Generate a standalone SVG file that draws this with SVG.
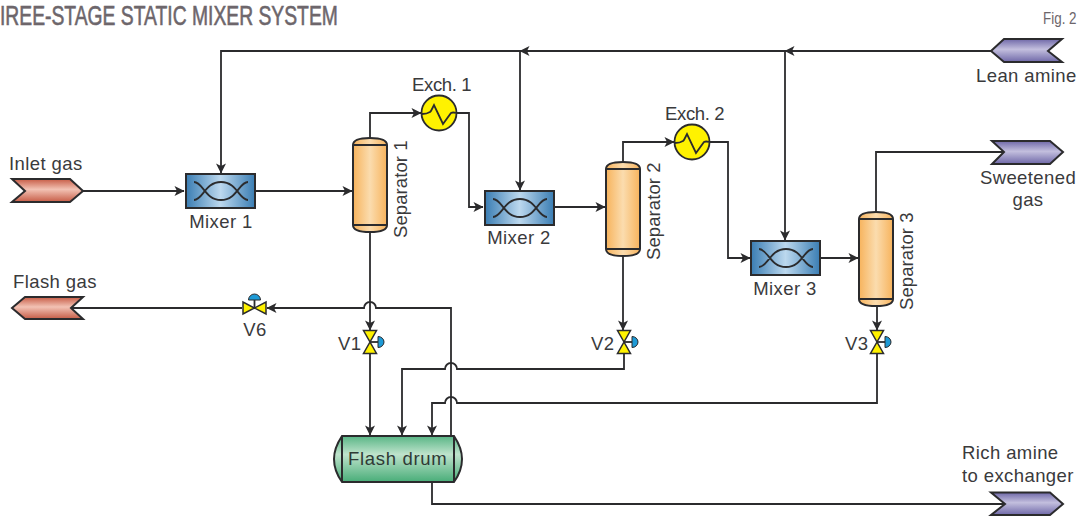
<svg xmlns="http://www.w3.org/2000/svg" width="1079" height="516" viewBox="0 0 1079 516">
<style>
text{font-family:"Liberation Sans",Arial,sans-serif;font-size:18.500px;letter-spacing:.4px;fill:#3a3a3c}
.t{fill:#6d666b;letter-spacing:0}
.c{fill:none;stroke:#2b2b2d;stroke-width:1.8}
.o{stroke:#2b2b2d;stroke-width:2;stroke-linejoin:miter}
.m{fill:url(#gm)}
.s{fill:url(#gs)}
.x{fill:none;stroke:#2b2b2d;stroke-width:1.800}
.v{fill:#fff200;stroke:#2b2b2d;stroke-width:1.500}
.a{fill:#1e9ad6;stroke:#2b2b2d;stroke-width:1}
.e{fill:#fff200;stroke:#2b2b2d;stroke-width:1.800}
</style>
<defs>
<marker id="ah" viewBox="0 0 10 10" refX="9.500" refY="5" markerWidth="11" markerHeight="10" markerUnits="userSpaceOnUse" orient="auto"><path d="M0 0L10 5L0 10L2.500 5Z" fill="#2b2b2d"/></marker>
<linearGradient id="gr" x1="0" y1="0" x2="0" y2="1"><stop offset="0" stop-color="#c75c46"/><stop offset=".45" stop-color="#f2c2b4"/><stop offset="1" stop-color="#c75c46"/></linearGradient>
<linearGradient id="gp" x1="0" y1="0" x2="0" y2="1"><stop offset="0" stop-color="#6f68a8"/><stop offset=".45" stop-color="#c3bfde"/><stop offset="1" stop-color="#6f68a8"/></linearGradient>
<linearGradient id="gm" x1="0" y1="0" x2="1" y2="0"><stop offset="0" stop-color="#3a7db3"/><stop offset=".5" stop-color="#bcd8ee"/><stop offset="1" stop-color="#3a7db3"/></linearGradient>
<linearGradient id="gs" x1="0" y1="0" x2="1" y2="0"><stop offset="0" stop-color="#f7b35c"/><stop offset=".5" stop-color="#fbdcae"/><stop offset="1" stop-color="#f7b35c"/></linearGradient>
<linearGradient id="gd" x1="0" y1="0" x2="0" y2="1"><stop offset="0" stop-color="#58b585"/><stop offset=".4" stop-color="#bfe3cc"/><stop offset="1" stop-color="#48ad78"/></linearGradient>
<g id="mix"><rect class="o m" x="0" y="0" width="69" height="34"/><path class="x" d="M8 8C17 8 19 26 35 26C51 26 53 8 62 8M8 26C17 26 19 8 35 8C51 8 53 26 62 26"/></g>
<g id="sep"><path class="o s" d="M0 7Q0 0 17 0Q34 0 34 7V87Q34 94 17 94Q0 94 0 87Z"/><path class="o" fill="none" d="M0 7H34M0 87H34"/></g>
<g id="exch"><circle class="e" r="17.500"/><path class="x" d="M-17 1Q-12 1-9 -1L-8-2L-5-8L4 11L12 0Q14-1 17 0"/></g>
<g id="vv"><path class="v" d="M-6.500-11.500H6.500L-6.500 11.500H6.500Z"/><path class="x" d="M0 0H8"/><path class="a" d="M8-5.500A6 5.500 0 0 1 8 5.500Z"/></g>
</defs>
<text class="t" transform="translate(0 25) scale(.715 1)" style="font-size:27px;stroke:#6d666b;stroke-width:.6">IREE-STAGE STATIC MIXER SYSTEM</text>
<text class="t" transform="translate(1043 24) scale(.84 1)" style="font-size:16px">Fig. 2</text>
<g id="connectors">
<path class="c" marker-end="url(#ah)" d="M83 191H184"/>
<path class="c" marker-end="url(#ah)" d="M255 191H352"/>
<path class="c" marker-end="url(#ah)" d="M370 138V113H421"/>
<path class="c" marker-end="url(#ah)" d="M457 113H469V207H483"/>
<path class="c" marker-end="url(#ah)" d="M554 207H605"/>
<path class="c" marker-end="url(#ah)" d="M623 162V142H674"/>
<path class="c" marker-end="url(#ah)" d="M710 142H728V258H750"/>
<path class="c" marker-end="url(#ah)" d="M820 258H858"/>
<path class="c" d="M876 211V152H1004"/>
<path class="c" marker-end="url(#ah)" d="M991 51H221V173"/>
<path class="c" marker-end="url(#ah)" d="M991 51H785"/>
<path class="c" marker-end="url(#ah)" d="M785 51H520"/>
<path class="c" marker-end="url(#ah)" d="M520 51V190"/>
<path class="c" marker-end="url(#ah)" d="M785 51V240"/>
<path class="c" marker-end="url(#ah)" d="M370 233V330"/>
<path class="c" marker-end="url(#ah)" d="M370 354V435"/>
<path class="c" marker-end="url(#ah)" d="M623 253V330"/>
<path class="c" marker-end="url(#ah)" d="M877 305V330"/>
<path class="c" marker-end="url(#ah)" d="M624 354V369H457A6 6 0 0 0 445 369H402V435"/>
<path class="c" marker-end="url(#ah)" d="M877 354V403H457A6 6 0 0 0 445 403H432V435"/>
<path class="c" marker-end="url(#ah)" d="M451 436V308H376A6 6 0 0 0 364 308H267"/>
<path class="c" d="M242 308H71"/>
<path class="c" d="M432 482V504H1005"/>
</g>
<g id="inlet-gas"><path class="o" fill="url(#gr)" d="M12 179H70L83 191L70 202H12L25 191Z"/><text x="9" y="170">Inlet gas</text></g>
<g id="flash-gas"><path class="o" fill="url(#gr)" d="M12 308L25 297H83L71 308L83 319H25Z"/><text x="13" y="288">Flash gas</text></g>
<g id="lean-amine"><path class="o" fill="url(#gp)" d="M991 51L1004 39H1062L1048 51L1062 62H1004Z"/><text x="976" y="82">Lean amine</text></g>
<g id="sweetened-gas"><path class="o" fill="url(#gp)" d="M992 141H1050L1063 152L1050 164H992L1004 152Z"/><text x="1028" y="184" text-anchor="middle">Sweetened</text><text x="1028" y="206" text-anchor="middle">gas</text></g>
<g id="rich-amine"><path class="o" fill="url(#gp)" d="M991 492.500H1050L1063 504L1050 515H991L1005 504Z"/><text x="962" y="459">Rich amine</text><text x="962" y="482">to exchanger</text></g>
<g id="mixer-1"><use href="#mix" x="186" y="174"/><text x="221" y="228" text-anchor="middle">Mixer 1</text></g>
<g id="mixer-2"><use href="#mix" x="485" y="191"/><text x="519" y="244" text-anchor="middle">Mixer 2</text></g>
<g id="mixer-3"><use href="#mix" x="751" y="241"/><text x="785" y="295" text-anchor="middle">Mixer 3</text></g>
<g id="separator-1"><use href="#sep" x="353" y="138"/><text transform="translate(407 238) rotate(-90)" textLength="98">Separator 1</text></g>
<g id="separator-2"><use href="#sep" x="606" y="162"/><text transform="translate(660 260) rotate(-90)" textLength="98">Separator 2</text></g>
<g id="separator-3"><use href="#sep" x="859" y="212"/><text transform="translate(913 310) rotate(-90)" textLength="98">Separator 3</text></g>
<g id="exch-1"><use href="#exch" x="439" y="113"/><text x="412" y="91" textLength="60">Exch. 1</text></g>
<g id="exch-2"><use href="#exch" x="692" y="142"/><text x="665" y="120" textLength="60">Exch. 2</text></g>
<g id="v1"><use href="#vv" x="370" y="342"/><text x="338" y="350">V1</text></g>
<g id="v2"><use href="#vv" x="624" y="342"/><text x="591" y="350">V2</text></g>
<g id="v3"><use href="#vv" x="877" y="342"/><text x="845" y="350">V3</text></g>
<g id="v6"><path class="v" d="M243 302V314L266 302V314Z"/><path class="x" d="M254.500 308V300"/><path class="a" d="M248.500 300A6 6 0 0 1 260.500 300Z"/><text x="255" y="336" text-anchor="middle">V6</text></g>
<g id="flash-drum"><path class="o" fill="url(#gd)" d="M342 436H454Q462 448 462 459Q462 471 454 482H342Q334 471 334 459Q334 448 342 436Z"/><path class="o" fill="none" d="M342 436V482M454 436V482"/><text x="397.500" y="465" text-anchor="middle" textLength="99" style="fill:#2f3a35">Flash drum</text></g>
</svg>
